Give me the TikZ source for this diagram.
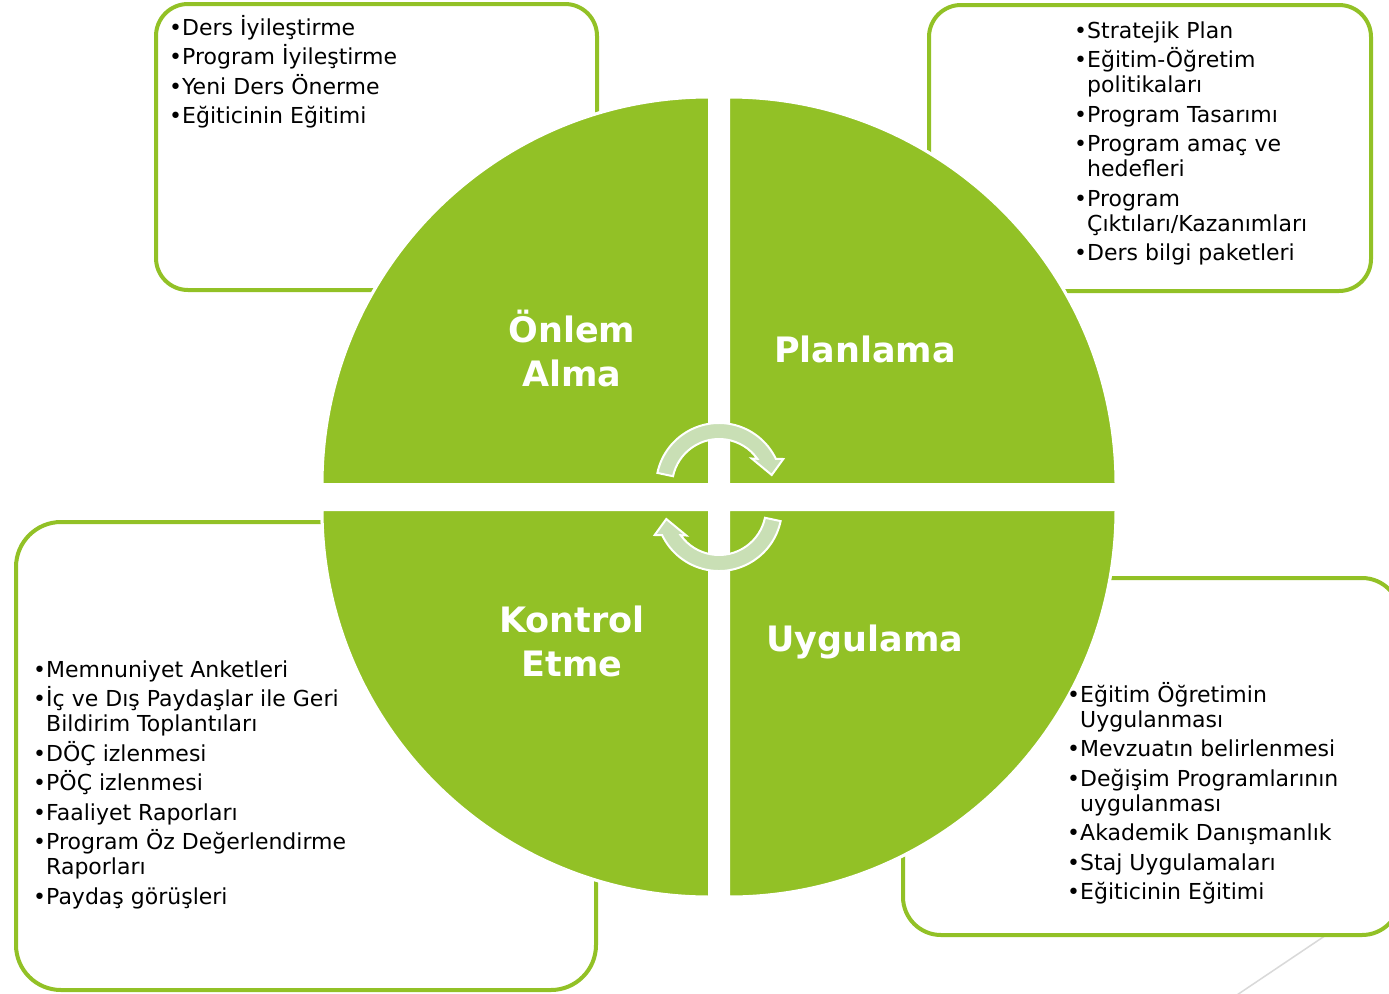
\documentclass[tikz,border=0pt]{standalone}
\usepackage{fontspec}
\setmainfont{DejaVu Sans}
\usetikzlibrary{positioning}
\definecolor{leafgreen}{RGB}{146,193,38}
\definecolor{paleleaf}{RGB}{201,223,181}
\definecolor{slidegray}{RGB}{217,217,217}
\tikzset{
  cyclebox/.style={draw=leafgreen, fill=white, line width=4pt},
  quarter/.style={fill=leafgreen, draw=white, line width=3pt},
  phase/.style={text=white, font=\fontsize{35}{44}\selectfont\bfseries, align=center, inner sep=0pt},
  bullets/.style={font=\fontsize{22}{25}\selectfont, inner sep=0pt, anchor=base west},
  turnarrow/.style={fill=paleleaf, draw=white, line width=2pt}
}
\newcommand{\bul}{\makebox[11pt][l]{\kern-2pt\textbullet}}
\newcommand{\cont}{\hspace*{11pt}}

\begin{document}
\begin{tikzpicture}[x=1pt,y=1pt]
  \useasboundingbox (0,0) rectangle (1389,-993);
  \fill[white] (0,0) rectangle (1389,-993);

  % slide decoration
  \draw[slidegray, line width=1.5pt] (1225,-1003) -- (1405,-882);

  % boxes behind the wheel
  \draw[cyclebox, rounded corners=32pt] (156,-4) rectangle (597,-290);
  \draw[cyclebox, rounded corners=32pt] (929,-5) rectangle (1371,-291);
  \draw[cyclebox, rounded corners=45pt] (16,-522) rectangle (596,-990);
  \draw[cyclebox, rounded corners=38pt] (903,-578) rectangle (1400,-935);

  % the four quarters
  \fill[quarter] (709.5,-484.5) -- ++(-387.5,0) arc[start angle=180, end angle=90, radius=387.5] -- cycle;
  \fill[quarter] (728.5,-484.5) -- ++(0,387.5) arc[start angle=90, end angle=0, radius=387.5] -- cycle;
  \fill[quarter] (728.5,-509.5) -- ++(387.5,0) arc[start angle=0, end angle=-90, radius=387.5] -- cycle;
  \fill[quarter] (709.5,-509.5) -- ++(0,-387.5) arc[start angle=270, end angle=180, radius=387.5] -- cycle;
  \draw[quarter] (709.5,-484.5) -- ++(-387.5,0) arc[start angle=180, end angle=90, radius=387.5] -- cycle;
  \draw[quarter] (728.5,-484.5) -- ++(0,387.5) arc[start angle=90, end angle=0, radius=387.5] -- cycle;
  \draw[quarter] (728.5,-509.5) -- ++(387.5,0) arc[start angle=0, end angle=-90, radius=387.5] -- cycle;
  \draw[quarter] (709.5,-509.5) -- ++(0,-387.5) arc[start angle=270, end angle=180, radius=387.5] -- cycle;

  % phase names
  \node[phase] (onlem) at (572,-349) {Önlem\\Alma};
  \node[phase] (plan) at (865,-349) {Planlama};
  \node[phase] (kontrol) at (572,-641) {Kontrol\\Etme};
  \node[phase] (uygula) at (865,-642) {Uygulama};

  % turning arrows
  \coordinate (upc) at (719,-486);
  \coordinate (dnc) at (719,-508);
  \draw[turnarrow] ([shift={(168:63)}]upc) arc[start angle=168, end angle=25.6, radius=63]
    -- ([shift={(64.3,27)}]upc) -- ([shift={(52.7,11)}]upc) -- ([shift={(32.7,27.5)}]upc)
    -- ([shift={(35.4:47)}]upc) arc[start angle=35.4, end angle=168, radius=47] -- cycle;
  \draw[turnarrow] ([shift={(348:63)}]dnc) arc[start angle=348, end angle=205.6, radius=63]
    -- ([shift={(-64.3,-27)}]dnc) -- ([shift={(-52.7,-11)}]dnc) -- ([shift={(-32.7,-27.5)}]dnc)
    -- ([shift={(215.4:47)}]dnc) arc[start angle=215.4, end angle=348, radius=47] -- cycle;

  % lists
  \node[bullets] (onlemlist) at (171,-35) {\parbox[t]{400pt}{\raggedright
    \bul Ders İyileştirme\\[4.5pt]
    \bul Program İyileştirme\\[4.5pt]
    \bul Yeni Ders Önerme\\[4.5pt]
    \bul Eğiticinin Eğitimi}};
  \node[bullets] (planlist) at (1076,-38) {\parbox[t]{400pt}{\raggedright
    \bul Stratejik Plan\\[4.5pt]
    \bul Eğitim-Öğretim\\
    \cont politikaları\\[4.5pt]
    \bul Program Tasarımı\\[4.5pt]
    \bul Program amaç ve\\
    \cont hedefleri\\[4.5pt]
    \bul Program\\
    \cont Çıktıları/Kazanımları\\[4.5pt]
    \bul Ders bilgi paketleri}};
  \node[bullets] (kontrollist) at (35,-677) {\parbox[t]{400pt}{\raggedright
    \bul Memnuniyet Anketleri\\[4.5pt]
    \bul İç ve Dış Paydaşlar ile Geri\\
    \cont Bildirim Toplantıları\\[4.5pt]
    \bul DÖÇ izlenmesi\\[4.5pt]
    \bul PÖÇ izlenmesi\\[4.5pt]
    \bul Faaliyet Raporları\\[4.5pt]
    \bul Program Öz Değerlendirme\\
    \cont Raporları\\[4.5pt]
    \bul Paydaş görüşleri}};
  \node[bullets] (uygulist) at (1069,-702) {\parbox[t]{400pt}{\raggedright
    \bul Eğitim Öğretimin\\
    \cont Uygulanması\\[4.5pt]
    \bul Mevzuatın belirlenmesi\\[4.5pt]
    \bul Değişim Programlarının\\
    \cont uygulanması\\[4.5pt]
    \bul Akademik Danışmanlık\\[4.5pt]
    \bul Staj Uygulamaları\\[4.5pt]
    \bul Eğiticinin Eğitimi}};
\end{tikzpicture}
\end{document}
